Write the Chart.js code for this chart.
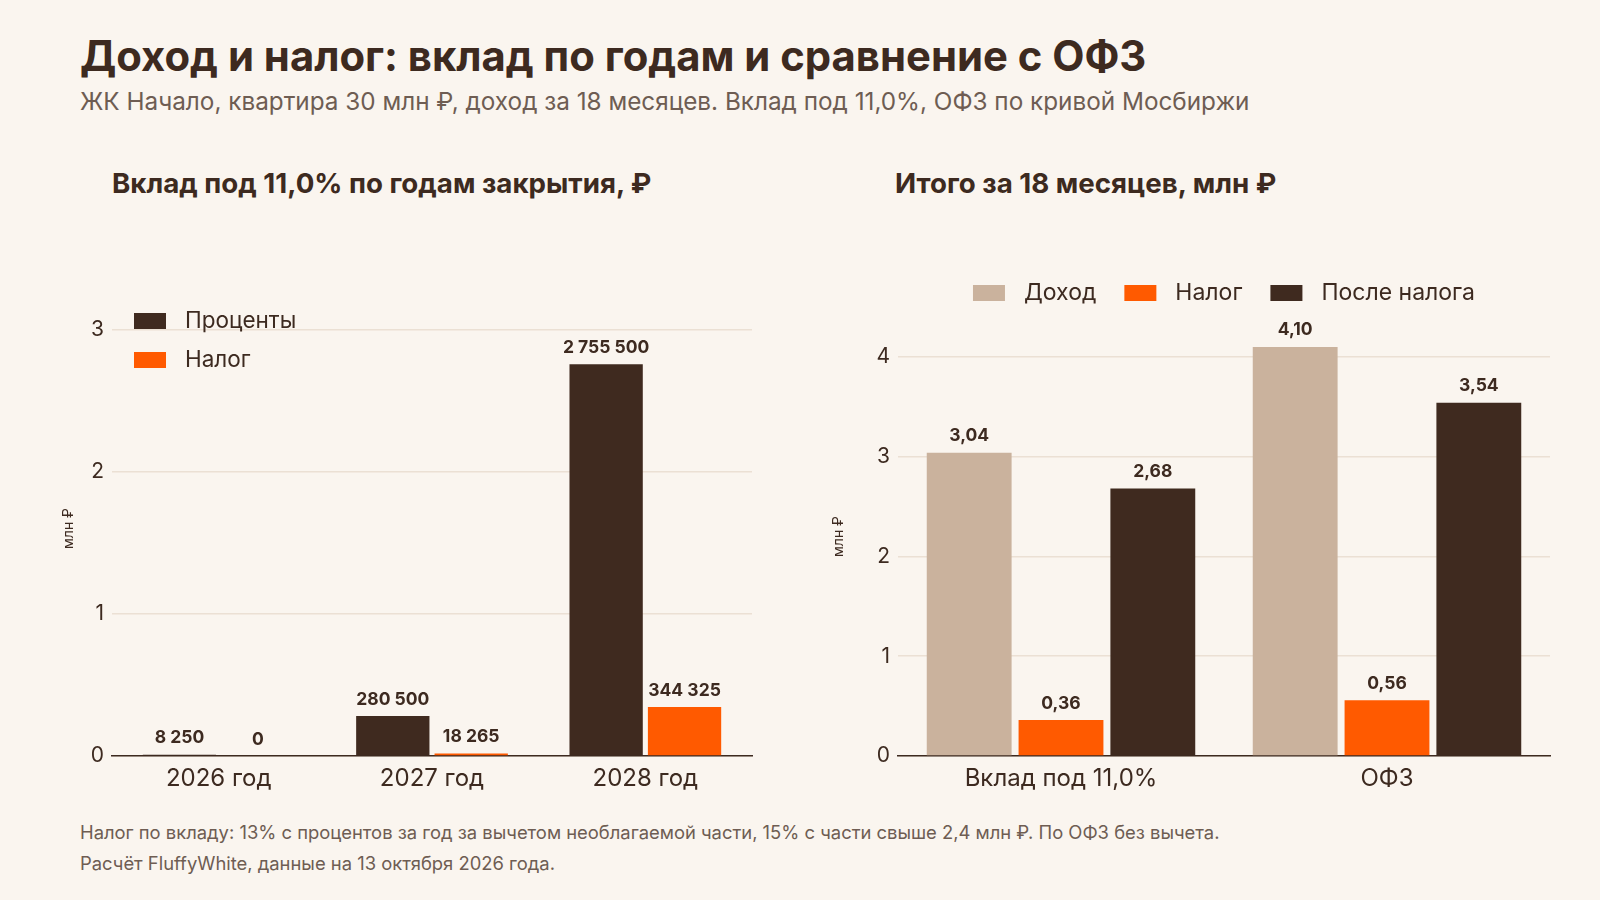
<!DOCTYPE html>
<html lang="ru">
<head>
<meta charset="utf-8">
<title>Доход и налог</title>
<script src="https://cdn.jsdelivr.net/npm/chart.js@4"></script>
<style>
  body { margin: 0; background: #faf5ef; font-family: Inter, "Liberation Sans", Arial, sans-serif; color: #3d2a20; }
  .page { position: relative; width: 1600px; height: 900px; overflow: hidden; }
  .title { position: absolute; left: 80px; top: 31px; font-size: 41.8px; font-weight: bold; }
  .subtitle { position: absolute; left: 80px; top: 86px; font-size: 24.3px; color: #6e5d53; }
  .panel-title { position: absolute; top: 166px; font-size: 27.7px; font-weight: bold; }
  .note { position: absolute; left: 80px; font-size: 18.4px; color: #6e5d53; }
  .box { position: absolute; top: 200px; height: 600px; }
</style>
</head>
<body>
<div class="page">
  <div class="title">Доход и налог: вклад по годам и сравнение с ОФЗ</div>
  <div class="subtitle">ЖК Начало, квартира 30 млн ₽, доход за 18 месяцев. Вклад под 11,0%, ОФЗ по кривой Мосбиржи</div>

  <div class="panel-title" style="left:112px">Вклад под 11,0% по годам закрытия, ₽</div>
  <div class="panel-title" style="left:895px">Итого за 18 месяцев, млн ₽</div>

  <div class="box" style="left:60px; width:720px"><canvas id="left" width="720" height="600"></canvas></div>
  <div class="box" style="left:830px; width:740px"><canvas id="right" width="740" height="600"></canvas></div>

  <div class="note" style="top:821px">Налог по вкладу: 13% с процентов за год за вычетом необлагаемой части, 15% с части свыше 2,4 млн ₽. По ОФЗ без вычета.</div>
  <div class="note" style="top:852px">Расчёт FluffyWhite, данные на 13 октября 2026 года.</div>
</div>

<script>
// Left panel: deposit by closing year, rubles
const years = ['2026 год', '2027 год', '2028 год'];
const interestByYear = [8250, 280500, 2755500];
const taxByYear = [0, 18265, 344325];
const leftTicks = [0, 1000000, 2000000, 3000000];

// Right panel: totals over 18 months, mln rubles
const groups = ['Вклад под 11,0%', 'ОФЗ'];
const incomeTotal = [3.04, 4.10];
const taxTotal = [0.36, 0.56];
const afterTaxTotal = [2.68, 3.54];
const rightTicks = [0, 1, 2, 3, 4];

const DARK = '#3f2a1f';
const ORANGE = '#ff5a00';
const TAN = '#cab29d';
const TEXT = '#3d2a20';
const GRID = '#ebe0d4';
const FONT = 'Inter, "Liberation Sans", Arial, sans-serif';

// Space as thousands separator
function formatRub(v) {
  return String(v).replace(/\B(?=(\d{3})+(?!\d))/g, ' ');
}

function formatMln(v) {
  return v.toFixed(2).replace('.', ',');
}

// Draws the number above every bar
const barLabels = {
  id: 'barLabels',
  afterDatasetsDraw(chart, args, opts) {
    const ctx = chart.ctx;
    ctx.save();
    ctx.font = 'bold 17.5px ' + FONT;
    ctx.fillStyle = TEXT;
    ctx.textAlign = 'center';
    ctx.textBaseline = 'bottom';
    chart.data.datasets.forEach((ds, i) => {
      chart.getDatasetMeta(i).data.forEach((bar, j) => {
        ctx.fillText(opts.format(ds.data[j]), bar.x, bar.y - 8);
      });
    });
    ctx.restore();
  }
};

// Simple legend drawn where we want it
const boxLegend = {
  id: 'boxLegend',
  afterDraw(chart, args, opts) {
    const ctx = chart.ctx;
    ctx.save();
    ctx.font = opts.size + 'px ' + FONT;
    ctx.textBaseline = 'middle';
    const items = chart.data.datasets.map(ds => ({ label: ds.label, color: ds.backgroundColor }));
    let x = opts.x;
    let y = opts.y;
    if (opts.centered) {
      let total = 0;
      items.forEach((it, i) => {
        total += 32 + 19 + ctx.measureText(it.label).width + (i < items.length - 1 ? opts.gap : 0);
      });
      x = chart.chartArea.left + (chart.chartArea.right - chart.chartArea.left) / 2 - total / 2;
    }
    items.forEach(it => {
      ctx.fillStyle = it.color;
      ctx.fillRect(x, y - 8, 32, 16);
      ctx.fillStyle = TEXT;
      ctx.fillText(it.label, x + 51, y);
      if (opts.vertical) {
        y += opts.gap;
      } else {
        x += 51 + ctx.measureText(it.label).width + opts.gap;
      }
    });
    ctx.restore();
  }
};

function axes(max, tickValues, tickCb, yWidth) {
  return {
    x: {
      grid: { display: false },
      border: { display: true, color: TEXT, width: 1.5 },
      ticks: { color: TEXT, font: { family: FONT, size: 24 }, padding: 0 },
      afterFit(scale) { scale.height = 44; }
    },
    y: {
      min: 0,
      max: max,
      grid: { color: GRID, lineWidth: 1.5, drawTicks: false },
      border: { display: false },
      ticks: { color: TEXT, font: { family: FONT, size: 21 }, padding: 8, callback: tickCb },
      afterBuildTicks(scale) { scale.ticks = tickValues.map(v => ({ value: v })); },
      title: { display: true, text: 'млн ₽', color: TEXT, font: { family: FONT, size: 14 }, padding: 0 },
      afterFit(scale) { scale.width = yWidth; }
    }
  };
}

// Left chart
new Chart(document.getElementById('left'), {
  type: 'bar',
  data: {
    labels: years,
    datasets: [
      { label: 'Проценты', data: interestByYear, backgroundColor: DARK },
      { label: 'Налог', data: taxByYear, backgroundColor: ORANGE }
    ]
  },
  options: {
    responsive: false,
    animation: false,
    categoryPercentage: 0.735,
    barPercentage: 0.935,
    layout: { padding: { top: 101, right: 28, bottom: 0, left: 0 } },
    scales: axes(3200000, leftTicks, v => v / 1000000, 52),
    plugins: {
      legend: { display: false },
      tooltip: { enabled: false },
      barLabels: { format: formatRub },
      boxLegend: { x: 74, y: 121, gap: 39, vertical: true, size: 22.5 }
    }
  },
  plugins: [barLabels, boxLegend]
});

// Right chart
new Chart(document.getElementById('right'), {
  type: 'bar',
  data: {
    labels: groups,
    datasets: [
      { label: 'Доход', data: incomeTotal, backgroundColor: TAN },
      { label: 'Налог', data: taxTotal, backgroundColor: ORANGE },
      { label: 'После налога', data: afterTaxTotal, backgroundColor: DARK }
    ]
  },
  options: {
    responsive: false,
    animation: false,
    categoryPercentage: 0.845,
    barPercentage: 0.924,
    layout: { padding: { top: 117, right: 20, bottom: 0, left: 0 } },
    scales: axes(4.4, rightTicks, v => v, 68),
    plugins: {
      legend: { display: false },
      tooltip: { enabled: false },
      barLabels: { format: formatMln },
      boxLegend: { x: 0, y: 93, gap: 28, centered: true, size: 23 }
    }
  },
  plugins: [barLabels, boxLegend]
});
</script>
</body>
</html>
